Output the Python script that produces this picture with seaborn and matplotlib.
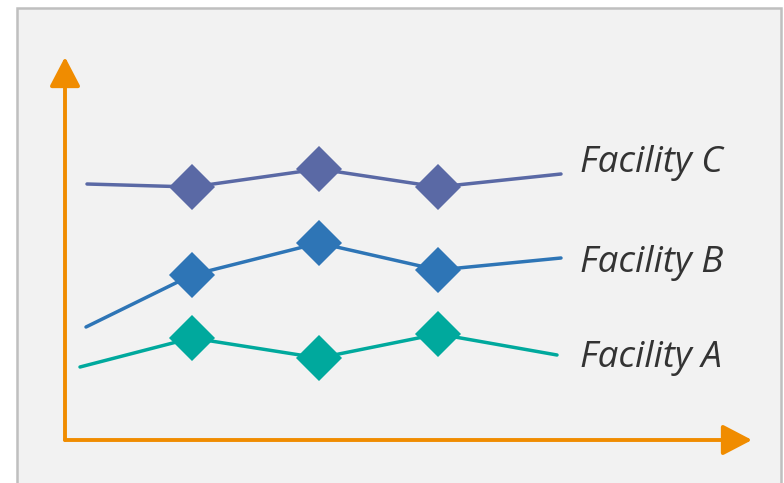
import matplotlib
matplotlib.use("Agg")
import matplotlib.pyplot as plt
import seaborn as sns
import pandas as pd
from matplotlib.patches import Rectangle

# Data (arbitrary units)
series = ["Facility A", "Facility B", "Facility C"]
x_a = [1.5, 12.7, 25.4, 37.3, 49.2]
y_a = [7.3, 10.2, 8.2, 10.6, 8.5]
x_b = [2.1, 12.7, 25.4, 37.3, 49.6]
y_b = [11.3, 16.5, 19.7, 17.0, 18.2]
x_c = [2.2, 12.7, 25.4, 37.3, 49.6]
y_c = [25.6, 25.3, 27.1, 25.3, 26.6]
label_y = {"Facility A": 7.3, "Facility B": 16.8, "Facility C": 26.8}
colors = {"Facility A": "#00a99d", "Facility B": "#2e75b6", "Facility C": "#5a69a5"}

rows = []
for name, xs, ys in [("Facility A", x_a, y_a), ("Facility B", x_b, y_b), ("Facility C", x_c, y_c)]:
    for i, (x, y) in enumerate(zip(xs, ys)):
        rows.append({"series": name, "x": x, "y": y, "idx": i})
df = pd.DataFrame(rows)

sns.set_style("white")
plt.rcParams["font.family"] = ["Open Sans", "DejaVu Sans"]

W, H = 784, 483
fig = plt.figure(figsize=(W / 100, H / 100), dpi=100)
fig.patch.set_facecolor("white")
fig.patches.append(Rectangle((17 / W, -0.1), (781 - 17) / W, (483 - 8) / H + 0.1,
                             transform=fig.transFigure, facecolor="#f2f2f2",
                             edgecolor="#bfbfbf", linewidth=1.8, zorder=-10))

ax = fig.add_axes([65 / W, (H - 440) / H, (752 - 65) / W, (440 - 57) / H])
ax.set_zorder(1)
ax.set_facecolor("none")
ax.set_xlim(0, 68.7)
ax.set_ylim(0, 38.3)
ax.axis("off")

sns.lineplot(data=df, x="x", y="y", hue="series", palette=colors, sort=False,
             estimator=None, units="series", linewidth=2.5, legend=False, ax=ax)
mid = df[(df["idx"] > 0) & (df["idx"] < 4)]
sns.scatterplot(data=mid, x="x", y="y", hue="series", palette=colors, marker="D",
                s=550, linewidth=0, legend=False, ax=ax, zorder=5)

orange = "#f08c00"
arrow_kw = dict(arrowstyle="-|>,head_length=0.9,head_width=0.47", color=orange,
                lw=2.8, mutation_scale=20, shrinkA=0, shrinkB=0)
ax.annotate("", xy=(0, 38.3), xytext=(0, 0), xycoords="data", arrowprops=arrow_kw,
            annotation_clip=False)
ax.annotate("", xy=(68.7, 0), xytext=(0, 0), xycoords="data", arrowprops=arrow_kw,
            annotation_clip=False)

for name in series:
    ax.text(51.5, label_y[name], name, fontsize=26.5, style="italic", color="#333333",
            va="baseline", ha="left")

fig.savefig("out.png", dpi=100)
